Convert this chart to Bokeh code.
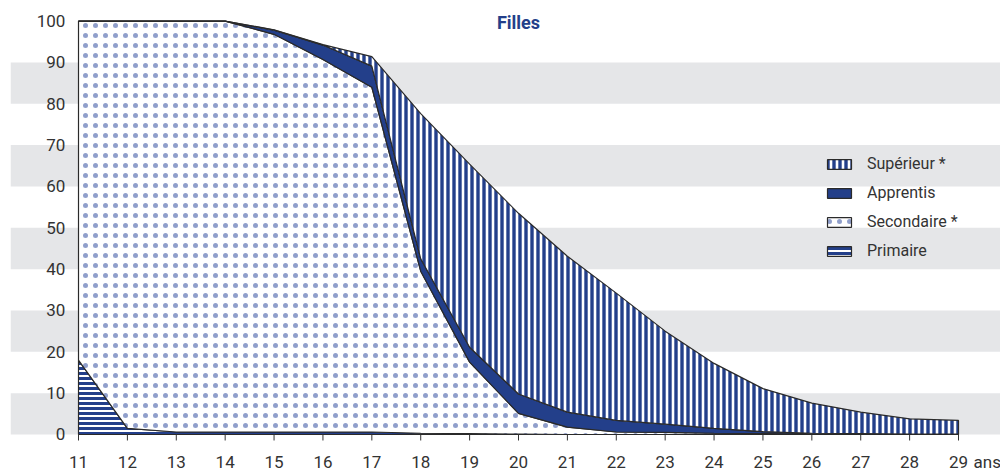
from bokeh.plotting import figure
from bokeh.models import BoxAnnotation, Legend, LegendItem, Label, Range1d
from bokeh.core.properties import value
from bokeh.embed import file_html
from bokeh.resources import INLINE

# ---------------- data ----------------
ages = [11, 12, 13, 14, 15, 16, 17, 18, 19, 20, 21, 22, 23, 24, 25, 26, 27, 28, 29]
primaire   = [18.0, 1.5, 0.6, 0.6, 0.6, 0.6, 0.6, 0.3, 0.2, 0.1, 0, 0, 0, 0, 0, 0, 0, 0, 0]
secondaire = [82.0, 98.5, 99.4, 99.4, 96.2, 90.1, 83.4, 39.2, 17.3, 5.0, 1.8, 0.6, 0.5, 0.3, 0.2, 0.1, 0.1, 0, 0]
apprentis  = [0, 0, 0, 0, 1.0, 3.5, 5.1, 3.0, 3.6, 4.7, 3.6, 2.8, 2.0, 1.2, 0.5, 0.2, 0.1, 0.1, 0.1]
superieur  = [0, 0, 0, 0, 0.1, 0.1, 2.3, 35.1, 44.3, 43.7, 37.7, 30.8, 22.5, 15.7, 10.4, 7.3, 5.2, 3.7, 3.3]
series_names = ["Primaire", "Secondaire *", "Apprentis", "Supérieur *"]
legend_order = ["Supérieur *", "Apprentis", "Secondaire *", "Primaire"]
y_ticks = [0, 10, 20, 30, 40, 50, 60, 70, 80, 90, 100]
x_tick_labels = [str(a) for a in ages]
title_text = "Filles"
unit_text = "ans"

BLUE = "#233f8a"
DOT = "#3550a0"
GREY = "#e5e6e8"
TXT = "#333333"
EDGE = "#2a2a2a"
FONT_NAME = "Roboto"
FONT = value(FONT_NAME)

# frame covers the whole canvas (except a 10px strip on the left) so that
# the grey bands and all tick texts live inside it
p = figure(width=1000, height=471, output_backend="svg", toolbar_location=None,
           x_range=Range1d(9.609, 29.859), y_range=Range1d(-8.95, 104.98),
           min_border_left=10, min_border_right=0, min_border_top=0, min_border_bottom=0)
p.outline_line_alpha = 0
p.xgrid.visible = False
p.ygrid.visible = False
p.xaxis.visible = False
p.yaxis.visible = False
p.background_fill_color = "white"
p.border_fill_color = "white"

# gray bands
for lo in y_ticks[:-1:2]:
    p.add_layout(BoxAnnotation(bottom=lo, top=lo + 10, fill_color=GREY, fill_alpha=1,
                               line_alpha=0, level="underlay"))

# stacked areas as polygons
styles = {
    "Primaire": dict(fill_color="white", hatch_pattern="horizontal_line", hatch_color=BLUE,
                     hatch_scale=5, hatch_weight=3),
    "Secondaire *": dict(fill_color="white", hatch_pattern="dot", hatch_color=DOT,
                         hatch_alpha=0.55, hatch_scale=10, hatch_weight=1),
    "Apprentis": dict(fill_color=BLUE),
    "Supérieur *": dict(fill_color="white", hatch_pattern="vertical_line", hatch_color=BLUE,
                        hatch_scale=6, hatch_weight=3.4),
}
lower = [0.0] * len(ages)
renderers = {}
for name, vals in zip(series_names, [primaire, secondaire, apprentis, superieur]):
    upper = [a + b for a, b in zip(lower, vals)]
    xs = ages + ages[::-1]
    ys = upper + lower[::-1]
    r = p.patch(xs, ys, line_color=EDGE, line_width=1.2, **styles[name])
    renderers[name] = r
    lower = upper

# legend
items = [LegendItem(label=n, renderers=[renderers[n]]) for n in legend_order]
legend = Legend(items=items, location=(814, 211), orientation="vertical",
                glyph_width=30, glyph_height=12, label_standoff=13, spacing=10,
                padding=0, margin=0, border_line_alpha=0, background_fill_alpha=0,
                label_text_font=FONT_NAME, label_text_font_size="16px", label_text_color=TXT)
p.add_layout(legend)

# x axis: ticks and labels
tick_len = 6 / 4.134
p.segment(x0=ages, y0=[0] * len(ages), x1=ages, y1=[-tick_len] * len(ages),
          line_color=TXT, line_width=1)
p.text(x=ages, y=[-6.65] * len(ages), text=x_tick_labels,
       text_font=FONT, text_font_size="17px", text_color=TXT,
       text_align="center", text_baseline="middle")
p.text(x=[ages[-1]], y=[-6.65], text=[unit_text], x_offset=15,
       text_font=FONT, text_font_size="17px", text_color=TXT,
       text_align="left", text_baseline="middle")

# y tick labels
p.text(x=[10.73] * len(y_ticks), y=y_ticks, text=[str(v) for v in y_ticks],
       text_font=FONT, text_font_size="17px", text_color=TXT,
       text_align="right", text_baseline="middle")

# title
p.add_layout(Label(x=(ages[0] + ages[-1]) / 2, y=99.7, text=title_text, text_font=FONT_NAME,
                   text_font_size="18px", text_font_style="bold", text_color=BLUE,
                   text_align="center", text_baseline="middle"))

open("out.html", "w").write(file_html(p, INLINE))
